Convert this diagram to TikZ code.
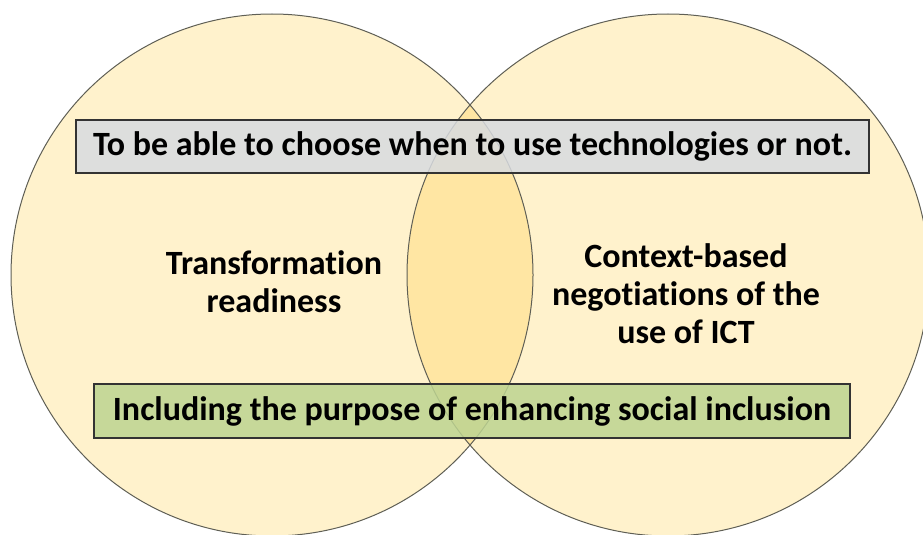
\documentclass[tikz,border=0pt]{standalone}
\usepackage{fontspec}
\setmainfont{Carlito}[Ligatures={TeX,NoCommon}]
\usepackage{tikz}
\usetikzlibrary{positioning}
\definecolor{setfill}{HTML}{FFF2CC}
\definecolor{lensfill}{HTML}{FFE6A3}
\definecolor{setline}{HTML}{5F5F55}
\definecolor{greybox}{HTML}{D8DBE0}
\definecolor{greenbox}{HTML}{BDD491}
\tikzset{
  setcirc/.style = {draw=setline, line width=1pt},% outline of a set
  banner/.style = {draw=black!80, line width=1.1pt, fill opacity=0.85,
    text opacity=1, inner sep=0pt, font=\bfseries\fontsize{34}{38}\selectfont},
  setlabel/.style = {align=center, text=black,
    font=\bfseries\fontsize{34}{38}\selectfont}
}

\begin{document}
\begin{tikzpicture}[x=1pt,y=-1pt]
        \useasboundingbox (0,0) rectangle (923,535);
        \clip (0,0) rectangle (923,535);
        \coordinate (L) at (272,275);
        \coordinate (R) at (668,275);
        % the two sets and their overlap
        \fill [setfill] (L) circle (261);
        \fill [setfill] (R) circle (261);
        \begin{scope}
          \clip (L) circle (261);
          \fill [lensfill] (R) circle (261);
        \end{scope}
        \draw [setcirc] (L) circle (261);
        \draw [setcirc] (R) circle (261);
        % banners across both sets
        \node [banner, fill=greybox, minimum width=793, minimum height=53] (choose)
          at (472.5,146.5) {To be able to choose when to use technologies or not.};
        \node [banner, fill=greenbox, minimum width=756, minimum height=54] (incl)
          at (472,411) {Including the purpose of enhancing social inclusion};
        % set names
        \node [setlabel] (trans) at (274,282) {Transformation\\readiness};
        \node [setlabel] (ctx) at (686,294) {Context-based\\negotiations of the\\use of ICT};
\end{tikzpicture}
\end{document}
